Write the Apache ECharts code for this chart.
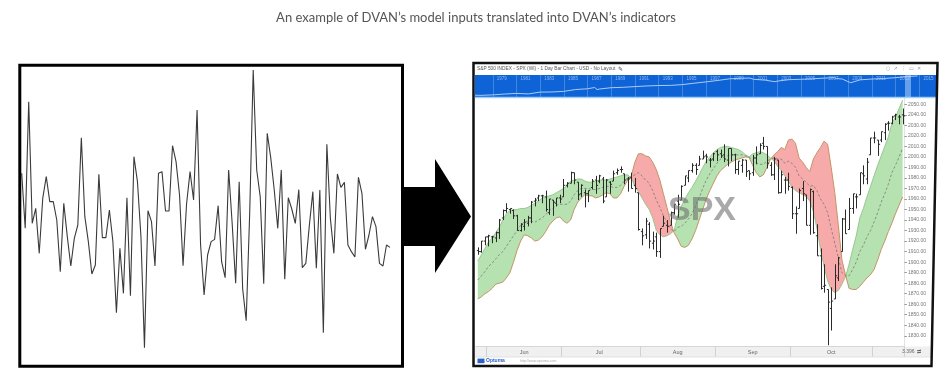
<!DOCTYPE html>
<html>
<head>
<meta charset="utf-8">
<script src="https://cdn.jsdelivr.net/npm/echarts@6/dist/echarts.min.js"></script>
<style>
html,body{margin:0;padding:0;background:#fff}
#c{width:939px;height:374px}
</style>
</head>
<body>
<div id="c"></div>
<script>
// ---------- texts ----------
const titleText = 'An example of DVAN’s model inputs translated into DVAN’s indicators';
const headerText = 'S&P 500 INDEX - SPX (WI) - 1 Day Bar Chart - USD - No Layout';
const watermark = 'SPX';

// ---------- left panel: raw model input signal ----------
const inputSignal = [
  1.45,-0.2,3.6,-0.05,0.4,-0.95,0.7,1.35,0.6,0.6,0.05,-1.5,0.55,-0.45,-1.33,-0.5,-0.1,2.52,0.15,-0.6,
  -1.57,-1.3,1.42,-0.48,-0.48,0.35,-0.6,-2.73,-0.8,-2.15,0.72,-2.22,1.95,1.2,-0.45,-3.78,0.33,0,-1.33,1.45,
  1.5,0.32,0.32,2.28,1.8,0.8,-1.32,0.53,1.5,0.65,3.35,-0.7,-2.2,-1.0,-0.6,-0.53,0.48,-1.2,-1.68,1.55,
  -0.05,-1.85,1.2,-2.02,-2.97,0.25,4.55,1.55,0.75,-1.86,2.65,1.92,0.95,-0.2,1.55,-1.73,0.72,0.38,-0.05,0.96,
  -1.38,-1.25,-0.12,0.9,-1.4,0.95,-3.33,2.32,0.1,-0.95,1.43,1.03,1.18,-0.7,-0.9,-1.06,1.33,0.85,-0.83,-0.4,
  0.15,-0.15,-1.25,-1.33,-0.7,-0.77
];

// ---------- right panel: trading sessions (month -> days) ----------
const sessMay = [28,29,30];
const sessJun = [2,3,4,5,6,9,10,11,12,13,16,17,18,19,20,23,24,25,26,27,30];
const sessJul = [1,2,3,7,8,9,10,11,14,15,16,17,18,21,22,23,24,25,28,29,30,31];
const sessAug = [1,4,5,6,7,8,11,12,13,14,15,18,19,20,21,22,25,26,27,28,29];
const sessSep = [2,3,4,5,8,9,10,11,12,15,16,17,18,19,22,23,24,25,26,29,30];
const sessOct = [1,2,3,6,7,8,9,10,13,14,15,16,17,20,21,22,23,24,27,28,29,30,31];
const sessNov = [3,4,5,6,7,10,11,12,13];
const monthCodes = ['06','07','08','09','10'];
const monthLabels = ['Jun','Jul','Aug','Sep','Oct'];

// daily bars
const barOpen = [1911,1910,1920,
  1924,1924,1923,1928,1942,1949,1950,1949,1944,1930,1934,1937,1942,1958,1961,1963,1962,1947,1959,1956,1961,
  1962,1973,1975,1985,1976,1965,1966,1965,1971,1978,1977,1979,1962,1976,1977,1985,1988,1984,1979,1980,1973,1966,
  1929,1926,1936,1918,1924,1910,1934,1935,1935,1947,1958,1959,1973,1980,1987,1992,1992,1998,2001,1997,1998,
  2005,2003,2002,1997,2008,2002,1988,1992,1997,1987,1985,1999,2003,2013,2010,1992,1983,1997,1966,1978,1978,
  1971,1946,1951,1970,1964,1935,1967,1925,1906,1877,1874,1856,1865,1885,1910,1941,1931,1951,1962,1964,1984,1979,2002,
  2018,2016,2016,2023,2032,2032,2039,2038,2040];
const barHigh = [1914,1920,1924,
  1926,1925,1929,1941,1950,1956,1951,1950,1945,1937,1941,1944,1958,1961,1964,1964,1968,1960,1959,1961,1964,
  1979,1976,1986,1985,1976,1974,1969,1968,1979,1982,1983,1981,1979,1977,1987,1989,1991,1984,1981,1985,1980,1966,
  1932,1942,1938,1929,1928,1932,1944,1940,1948,1955,1964,1973,1982,1987,1994,1994,2001,2006,2003,1999,2004,
  2007,2007,2012,2008,2008,2003,1996,1998,1997,1987,2002,2010,2013,2019,2010,1995,2000,1997,1987,1981,1985,
  1972,1953,1970,1977,1964,1970,1968,1936,1913,1898,1874,1876,1898,1905,1942,1950,1961,1965,1965,1985,1992,1999,2018,
  2024,2016,2024,2032,2034,2039,2041,2040,2046];
const barLow = [1907,1909,1916,
  1915,1918,1919,1922,1940,1947,1946,1941,1930,1929,1930,1934,1937,1953,1958,1956,1948,1945,1944,1953,1956,
  1962,1971,1975,1974,1959,1962,1952,1957,1969,1965,1975,1956,1962,1965,1977,1983,1985,1974,1967,1970,1966,1930,
  1916,1922,1913,1912,1905,1904,1934,1928,1935,1945,1942,1959,1973,1976,1985,1983,1992,1998,1994,1990,1996,
  1996,1999,1995,1991,1996,1984,1983,1985,1981,1978,1982,1993,2003,2007,1989,1982,1978,1965,1966,1965,1968,
  1941,1927,1951,1958,1935,1926,1927,1906,1874,1871,1821,1835,1865,1882,1910,1927,1931,1946,1951,1964,1974,1974,2002,
  2013,2001,2014,2016,2025,2031,2035,2031,2031];
const barClose = [1910,1920,1924,
  1925,1924,1928,1940,1949,1951,1951,1944,1930,1936,1938,1942,1957,1959,1963,1963,1950,1960,1957,1961,1960,
  1973,1975,1985,1978,1964,1973,1965,1968,1977,1973,1982,1958,1978,1974,1984,1987,1988,1978,1979,1970,1970,1931,
  1925,1939,1920,1920,1910,1932,1937,1934,1947,1955,1955,1972,1982,1987,1992,1988,1998,2000,2000,1997,2003,
  2002,2001,1998,2008,2002,1988,1996,1997,1986,1984,1999,2002,2011,2010,1994,1983,1998,1966,1983,1978,1972,
  1946,1946,1968,1965,1935,1969,1928,1906,1875,1878,1862,1863,1887,1904,1941,1927,1951,1965,1962,1985,1982,1995,2018,
  2018,2012,2024,2031,2032,2038,2040,2038,2039];

// indicator band: two spans (green where spanA is above spanB, red otherwise) and the dashed centre line
const spanA = [1901,1907,1913,1919,1923,1928,1933,1940,1946,1949,1950,1950,1951,1951,1952,1954,1956,1958,1961,1962,
  1963,1964,1966,1968,1970,1973,1977,1978,1979,1979,1977,1976,1976,1977,1978,1978,1978,1979,1980,1981,
  1982,1983,1983,1980,
  1972,1967,1961,1955,1950,1942,1930,1926,1924,1925,1927,1930,
  1944,1953,1960,1966,1971,1977,1983,1990,1996,2000,2004,2007,2009,2010,2010,2009,2008,2007,2005,2002,2000,
  2003,2004,2005,2004,2002,1999,
  1996,1991,1987,1982,1977,1971,1968,1966,1964,1962,1958,1948,1932,1912,1896,1882,1874,1871,1873,1879,1886,
  1898,1912,1925,1942,1951,1962,1972,1982,1992,2001,2010,2019,2032,2038,2046,2054];
const spanB = [1865,1867,1870,1872,1875,1879,1880,1881,1885,1890,1900,1911,1920,1926,1925,1923,1920,1921,1924,1929,
  1935,1939,1942,1943,1939,1937,1940,1950,1957,1961,1964,1963,1963,1961,1962,1964,1966,1965,1961,1961,
  1965,1972,1978,1982,
  1995,2003,2003,2001,2000,1995,1988,1978,1965,1952,1938,1928,
  1922,1915,1914,1916,1922,1930,1940,1950,1960,1968,1975,1982,1987,1990,1993,1995,1997,1998,1999,2000,1999.5,
  1992,1985,1981,1983,1990,1998,
  2002,2005,2009,2007,2016,2017,2013,1999,1995,1990,1986,1998,2004,2009,2015,2012,1990,1966,1935,1902,1888,
  1875,1874,1874,1877,1881,1885,1888,1893,1902,1912,1920,1929,1937,1946,1954,1962];
const spanMid = [1883,1887,1891,1896,1899,1903,1907,1910,1915,1920,1925,1930,1935,1938,1939,1939,1938,1940,1942,1945,
  1949,1951,1954,1955,1955,1955,1958,1964,1968,1970,1970,1970,1969,1969,1970,1971,1972,1972,1971,1971,
  1973,1977,1980,1981,
  1983,1985,1982,1978,1975,1968,1959,1952,1944,1938,1932,1929,
  1933,1934,1937,1941,1946,1953,1961,1970,1978,1984,1989,1994,1998,2000,2001,2002,2002,2002,2002,2001,2000,
  1997,1994,1993,1993,1996,1998,
  1999,1998,1998,1994,1996,1994,1990,1982,1979,1976,1972,1973,1968,1960,1955,1947,1932,1918,1904,1890,1887,
  1887,1893,1900,1910,1916,1924,1930,1938,1947,1957,1965,1974,1985,1992,2000,2008];

// long-history navigator strip
const overviewYears = [1977,1978,1979,1980,1981,1982,1983,1984,1985,1986,1987,1987.6,1987.8,1988,1989,1990,1991,1992,1993,1994,
  1995,1996,1997,1998,1999,2000,2000.7,2001,2002,2002.8,2003,2004,2005,2006,2007,2007.8,2008,2008.5,2008.9,2009.2,
  2010,2011,2012,2013,2014,2014.85];
const overviewLevels = [100,96,103,118,130,120,160,163,180,240,270,330,235,260,320,340,380,420,450,460,
  520,650,800,1000,1300,1420,1450,1200,1050,820,900,1130,1200,1300,1450,1560,1350,1250,880,700,
  1100,1250,1360,1550,1850,2040];
const overviewTickYears = [1979,1981,1983,1985,1987,1989,1991,1993,1995,1997,1999,2001,2003,2005,2007,2009,2011,2013,2015];

// ---------- derived tables ----------
const sessions = [['05', sessMay], ['06', sessJun], ['07', sessJul], ['08', sessAug], ['09', sessSep], ['10', sessOct], ['11', sessNov]];
const dates = [];
sessions.forEach(([m, days]) => days.forEach(d => dates.push(m + '-' + String(d).padStart(2, '0'))));

// month label sits on the middle session of each month
const monthLabelIndex = {};
monthCodes.forEach((m, k) => {
  const idx = dates.map((d, i) => d.slice(0, 2) === m ? i : -1).filter(i => i >= 0);
  monthLabelIndex[idx[Math.floor((idx.length - 1) / 2)]] = monthLabels[k];
});

const ohlc = dates.map((d, i) => [i, barOpen[i], barHigh[i], barLow[i], barClose[i]]);

// ---------- renderers ----------
const GREEN = 'rgba(122,200,112,0.55)';
const RED = 'rgba(240,92,92,0.52)';

function cloudItem(params, api) {
  const n = spanA.length;
  const pa = spanA.map((v, i) => api.coord([i, v]));
  const pb = spanB.map((v, i) => api.coord([i, v]));
  const children = [];
  const poly = (top, bot, up) => ({
    type: 'polygon',
    shape: { points: top.concat(bot.slice().reverse()) },
    style: { fill: up ? GREEN : RED, stroke: 'none' }
  });
  let top = [pa[0]], bot = [pb[0]];
  let up = spanA[0] >= spanB[0];
  for (let i = 0; i < n - 1; i++) {
    const d0 = spanA[i] - spanB[i], d1 = spanA[i + 1] - spanB[i + 1];
    if ((d0 >= 0) !== (d1 >= 0)) {
      const t = d0 / (d0 - d1);
      const cx = pa[i][0] + t * (pa[i + 1][0] - pa[i][0]);
      const cy = pa[i][1] + t * (pa[i + 1][1] - pa[i][1]);
      top.push([cx, cy]); bot.push([cx, cy]);
      children.push(poly(top, bot, up));
      top = [[cx, cy]]; bot = [[cx, cy]];
      up = d1 >= 0;
    }
    top.push(pa[i + 1]); bot.push(pb[i + 1]);
  }
  children.push(poly(top, bot, up));
  return { type: 'group', children };
}

function barItem(params, api) {
  const i = api.value(0);
  const o = api.coord([i, api.value(1)]);
  const h = api.coord([i, api.value(2)]);
  const l = api.coord([i, api.value(3)]);
  const c = api.coord([i, api.value(4)]);
  const x = Math.round(o[0]) + 0.5;
  const style = { stroke: '#2b2b2b', lineWidth: 1 };
  return {
    type: 'group',
    children: [
      { type: 'line', shape: { x1: x, y1: h[1], x2: x, y2: l[1] }, style },
      { type: 'line', shape: { x1: x - 1.6, y1: o[1], x2: x, y2: o[1] }, style },
      { type: 'line', shape: { x1: x, y1: c[1], x2: x + 1.6, y2: c[1] }, style }
    ]
  };
}

const FONT = 'Liberation Sans';
const chart = echarts.init(document.getElementById('c'));

chart.setOption({
  animation: false,
  backgroundColor: '#fff',
  textStyle: { fontFamily: FONT },
  grid: [
    { left: 21.7, top: 66, width: 368.3, height: 299 },
    { left: 475, top: 74, width: 461, height: 23 },
    { left: 476, top: 98, width: 428.4, height: 248.3 }
  ],
  xAxis: [
    { gridIndex: 0, type: 'category', boundaryGap: false, data: inputSignal.map((v, i) => i + 1), show: false },
    {
      gridIndex: 1, type: 'value', min: 1977.5, max: 2016.4, position: 'top',
      axisLine: { show: false }, splitLine: { show: false },
      axisTick: { show: true, inside: true, length: 23, customValues: overviewTickYears,
        lineStyle: { color: 'rgba(255,255,255,0.22)', width: 1 } },
      axisLabel: { show: true, inside: true, customValues: overviewTickYears, align: 'left',
        verticalAlign: 'top', margin: 2.5, padding: [0, 0, 0, 4], color: '#8db9f3', fontSize: 4.5,
        formatter: v => String(v) }
    },
    {
      gridIndex: 2, type: 'category', data: dates, boundaryGap: true,
      axisLine: { show: true, lineStyle: { color: '#d6d6d6', width: 1 } },
      axisTick: { show: true, length: 10.5, lineStyle: { color: '#d2d2d2' },
        interval: (i) => i > 0 && dates[i].slice(0, 2) !== dates[i - 1].slice(0, 2) },
      axisLabel: { show: true, interval: (i) => monthLabelIndex[i] !== undefined,
        formatter: (v, i) => monthLabelIndex[i] || '', color: '#666', fontSize: 5.5, margin: 3 },
      splitLine: { show: false }
    }
  ],
  yAxis: [
    { gridIndex: 0, type: 'value', min: -4.3, max: 4.67, show: false },
    { gridIndex: 1, type: 'log', logBase: 10, min: 74, max: 2760, show: false },
    {
      gridIndex: 2, type: 'value', position: 'right', min: 1820, max: 2056, interval: 10,
      axisLine: { show: true, lineStyle: { color: '#e2e2e2' } },
      axisTick: { show: true, length: 2.5, lineStyle: { color: '#9a9a9a' } },
      axisLabel: { color: '#777', fontSize: 5, margin: 3.5, showMinLabel: false, showMaxLabel: false,
        formatter: v => v.toFixed(2) },
      splitLine: { show: false }
    }
  ],
  series: [
    {
      type: 'line', xAxisIndex: 0, yAxisIndex: 0, data: inputSignal, symbol: 'none',
      lineStyle: { color: '#3a3a3a', width: 1.1 }, silent: true
    },
    {
      type: 'line', xAxisIndex: 1, yAxisIndex: 1, data: overviewYears.map((y, i) => [y, overviewLevels[i]]),
      symbol: 'none', lineStyle: { color: '#a9cbf7', width: 1 }, z: 3, silent: true
    },
    {
      type: 'custom', xAxisIndex: 2, yAxisIndex: 2, data: [[0, spanA[0]]], renderItem: cloudItem, z: 1, silent: true
    },
    {
      type: 'line', xAxisIndex: 2, yAxisIndex: 2, data: spanA, symbol: 'none',
      lineStyle: { color: '#86bf80', width: 0.8 }, z: 2, silent: true
    },
    {
      type: 'line', xAxisIndex: 2, yAxisIndex: 2, data: spanB, symbol: 'none',
      lineStyle: { color: '#c39566', width: 1 }, z: 2, silent: true
    },
    {
      type: 'line', xAxisIndex: 2, yAxisIndex: 2, data: spanMid, symbol: 'none',
      lineStyle: { color: '#6f6f6f', width: 0.7, type: [2.5, 2] }, z: 3, silent: true
    },
    {
      type: 'custom', xAxisIndex: 2, yAxisIndex: 2, data: ohlc, renderItem: barItem,
      encode: { x: 0, y: [1, 2, 3, 4] }, z: 5, silent: true
    }
  ],
  graphic: [
    { type: 'text', x: 476, y: 18, z: 10,
      style: { text: titleText, font: '13px Lato', fill: '#555', align: 'center', verticalAlign: 'middle' } },
    // left frame
    { type: 'rect', z: 100, shape: { x: 19.8, y: 65.3, width: 382.7, height: 301 },
      style: { fill: 'none', stroke: '#000', lineWidth: 3 } },
    // arrow
    { type: 'polygon', z: 100,
      shape: { points: [[401, 187], [435, 187], [435, 159], [471, 216.5], [435, 273], [435, 246], [401, 246]] },
      style: { fill: '#000' } },
    // navigator strip
    { type: 'rect', z: -10, shape: { x: 475, y: 75, width: 461.5, height: 22 }, style: { fill: '#0e63d6' } },
    { type: 'line', z: 5, shape: { x1: 475, y1: 97.4, x2: 936.5, y2: 97.4 }, style: { stroke: '#9fd0f7', lineWidth: 1.5 } },
    { type: 'rect', z: 6, shape: { x: 905, y: 75, width: 6, height: 22 }, style: { fill: 'rgba(190,222,255,0.5)' } },
    // header
    { type: 'text', x: 477, y: 69, z: 10,
      style: { text: headerText, font: '4.8px Liberation Sans', fill: '#555', verticalAlign: 'middle' } },
    { type: 'text', x: 618, y: 69, z: 10,
      style: { text: '✎', font: '6px DejaVu Sans', fill: '#555', verticalAlign: 'middle' } },
    { type: 'text', x: 886, y: 69, z: 10,
      style: { text: '○  ↗  ⋮  ▭  ✕', font: '5px DejaVu Sans', fill: '#9a9a9a', verticalAlign: 'middle' } },
    // time band + footer
    { type: 'rect', z: -10, shape: { x: 475, y: 346.5, width: 457, height: 10.5 }, style: { fill: '#f0f0f0' } },
    { type: 'line', z: 5, shape: { x1: 475, y1: 357, x2: 932, y2: 357 }, style: { stroke: '#dcdcdc', lineWidth: 0.8 } },
    { type: 'text', x: 902, y: 351.8, z: 10,
      style: { text: '3.396  ⇄', font: '5px Liberation Sans', fill: '#666', verticalAlign: 'middle' } },
    { type: 'rect', z: 10, shape: { x: 477.5, y: 358.6, width: 7, height: 4.6 }, style: { fill: '#2a62c9' } },
    { type: 'text', x: 486, y: 361, z: 10,
      style: { text: 'Optuma', font: 'bold 5px Liberation Sans', fill: '#2a62c9', verticalAlign: 'middle' } },
    { type: 'text', x: 520, y: 361, z: 10,
      style: { text: 'http://www.optuma.com', font: '3.5px Liberation Sans', fill: '#aaa', verticalAlign: 'middle' } },
    // watermark
    { type: 'text', x: 702, y: 211, z: 50,
      style: { text: watermark, font: 'bold 34px Liberation Sans', fill: 'rgba(112,112,112,0.6)',
        align: 'center', verticalAlign: 'middle' } },
    // right frame
    { type: 'polygon', z: 100, shape: { points: [[473.5, 63], [937.5, 63], [931.5, 366], [473.5, 366]] },
      style: { fill: 'none', stroke: '#111', lineWidth: 2.5 } }
  ]
});
</script>
</body>
</html>
